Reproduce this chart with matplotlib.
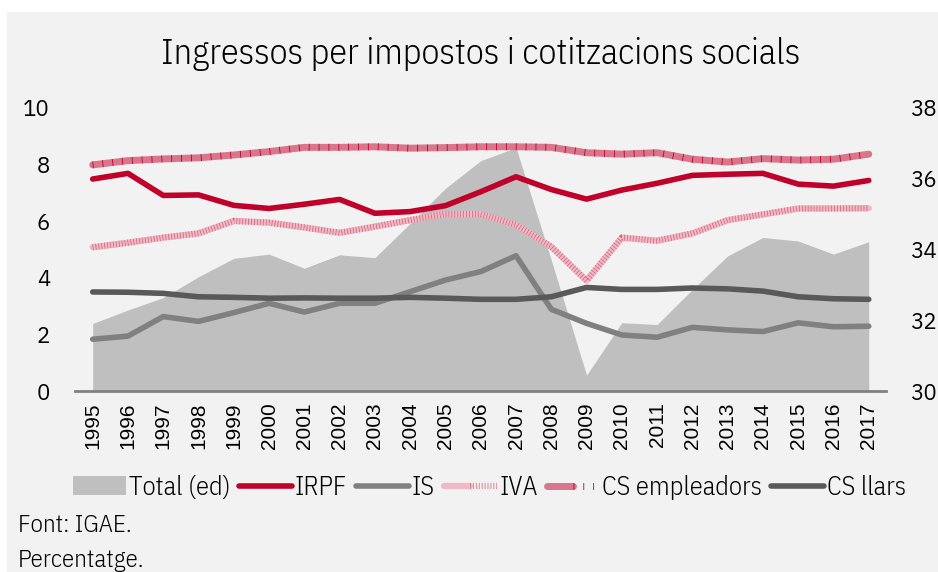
import matplotlib
matplotlib.use("Agg")
import matplotlib.pyplot as plt
import numpy as np
from matplotlib.patches import Rectangle
from matplotlib.legend_handler import HandlerTuple

years = list(range(1995, 2018))
irpf = [7.49, 7.69, 6.91, 6.93, 6.56, 6.45, 6.60, 6.77, 6.28, 6.34, 6.55, 7.04,
        7.57, 7.12, 6.78, 7.10, 7.34, 7.62, 7.66, 7.69, 7.31, 7.24, 7.44]
is_ = [1.83, 1.94, 2.63, 2.46, 2.77, 3.10, 2.79, 3.10, 3.10, 3.51, 3.92, 4.22,
       4.78, 2.89, 2.39, 1.98, 1.90, 2.25, 2.16, 2.10, 2.41, 2.27, 2.29]
iva = [5.08, 5.24, 5.42, 5.57, 6.01, 5.95, 5.78, 5.59, 5.81, 6.04, 6.25, 6.25,
       5.87, 5.10, 3.90, 5.42, 5.31, 5.57, 6.04, 6.24, 6.45, 6.45, 6.46]
cs_emp = [7.99, 8.14, 8.20, 8.24, 8.34, 8.46, 8.61, 8.61, 8.63, 8.58, 8.60, 8.63,
          8.63, 8.61, 8.42, 8.37, 8.42, 8.19, 8.09, 8.21, 8.16, 8.19, 8.37]
cs_llars = [3.50, 3.49, 3.45, 3.33, 3.31, 3.28, 3.29, 3.28, 3.28, 3.31, 3.28, 3.24,
            3.24, 3.33, 3.66, 3.59, 3.59, 3.64, 3.61, 3.53, 3.33, 3.26, 3.24]
total = [31.91, 32.29, 32.64, 33.23, 33.75, 33.87, 33.47, 33.85, 33.77, 34.74, 35.73, 36.51,
         36.88, 33.70, 30.45, 31.93, 31.88, 32.87, 33.82, 34.34, 34.24, 33.87, 34.22]

NARROW = ['IBM Plex Sans Condensed', 'DejaVu Sans']
WIDE = ['IBM Plex Sans', 'IBM Plex Sans Condensed', 'DejaVu Sans']
plt.rcParams['font.family'] = NARROW
plt.rcParams['font.weight'] = 300

fig = plt.figure(figsize=(9.38, 5.72), dpi=100)
fig.patch.set_facecolor('white')
fig.patches.append(Rectangle((7 / 938, 0), 1, 1 - 12 / 572, transform=fig.transFigure,
                             facecolor='#f2f2f2', edgecolor='none', zorder=-10))

ax = fig.add_axes([0.080, 0.3164, 0.865, 0.4948])
ax2 = ax.twinx()
ax.set_zorder(ax2.get_zorder() + 1)
ax.patch.set_visible(False)
ax2.patch.set_visible(False)

x = np.arange(len(years))

ax2.fill_between(x, 30, total, color='#bfbfbf', linewidth=0)
ax2.set_ylim(30, 38)
ax2.set_yticks([30, 32, 34, 36, 38])

# lineas
l_irpf, = ax.plot(x, irpf, color='#c0002b', lw=4, solid_capstyle='round', solid_joinstyle='round')
l_is, = ax.plot(x, is_, color='#808080', lw=4, solid_capstyle='round', solid_joinstyle='round')
l_iva, = ax.plot(x, iva, color='#f0b9c5', lw=4.5, solid_capstyle='round')
l_iva2, = ax.plot(x, iva, color='#d9607a', lw=4.5, ls=(0, (0.12, 0.35)))
l_emp, = ax.plot(x, cs_emp, color='#d9768c', lw=5, solid_capstyle='round')
l_emp2, = ax.plot(x, cs_emp, color='#c0002b', lw=5, ls=(0, (0.12, 1.3)))
l_llars, = ax.plot(x, cs_llars, color='#595959', lw=4, solid_capstyle='round', solid_joinstyle='round')

ax.set_ylim(0, 10)
ax.set_yticks([0, 2, 4, 6, 8, 10])
ax.set_xlim(-0.5, len(years) - 0.5)
ax.set_xticks(x)
ax.set_xticklabels(years, rotation=90, family=['Liberation Sans', 'DejaVu Sans'],
                   fontweight='normal', fontsize=15)

for a in (ax, ax2):
    for s in a.spines.values():
        s.set_visible(False)
    a.tick_params(length=0)
    for lab in a.get_yticklabels():
        lab.set_family(WIDE)
        lab.set_fontsize(16)
ax.spines['bottom'].set_visible(True)
ax.spines['bottom'].set_color('#808080')
ax.spines['bottom'].set_linewidth(2)
ax.tick_params(axis='y', pad=18)
ax2.tick_params(axis='y', pad=17)
ax.tick_params(axis='x', pad=8)

fig.text(0.512, 0.905, 'Ingressos per impostos i cotitzacions socials', ha='center', va='center',
         fontsize=26)

patch = Rectangle((0, 0), 1, 1, facecolor='#bfbfbf', edgecolor='none')
ax.legend([patch, l_irpf, l_is, (l_iva, l_iva2), (l_emp, l_emp2), l_llars],
          ['Total (ed)', 'IRPF', 'IS', 'IVA', 'CS empleadors', 'CS llars'],
          handler_map={tuple: HandlerTuple(ndivide=None, pad=0)},
          loc='center', bbox_to_anchor=(0.522, 0.148), bbox_transform=fig.transFigure,
          ncol=6, frameon=False, fontsize=19, handlelength=2.0, handletextpad=0.1,
          columnspacing=0.35)

fig.text(18 / 938, 1 - 525 / 572, 'Font: IGAE.', ha='left', va='center', fontsize=18)
fig.text(18 / 938, 1 - 560 / 572, 'Percentatge.', ha='left', va='center', fontsize=18)

fig.savefig('out.png', dpi=100, facecolor=fig.get_facecolor())
